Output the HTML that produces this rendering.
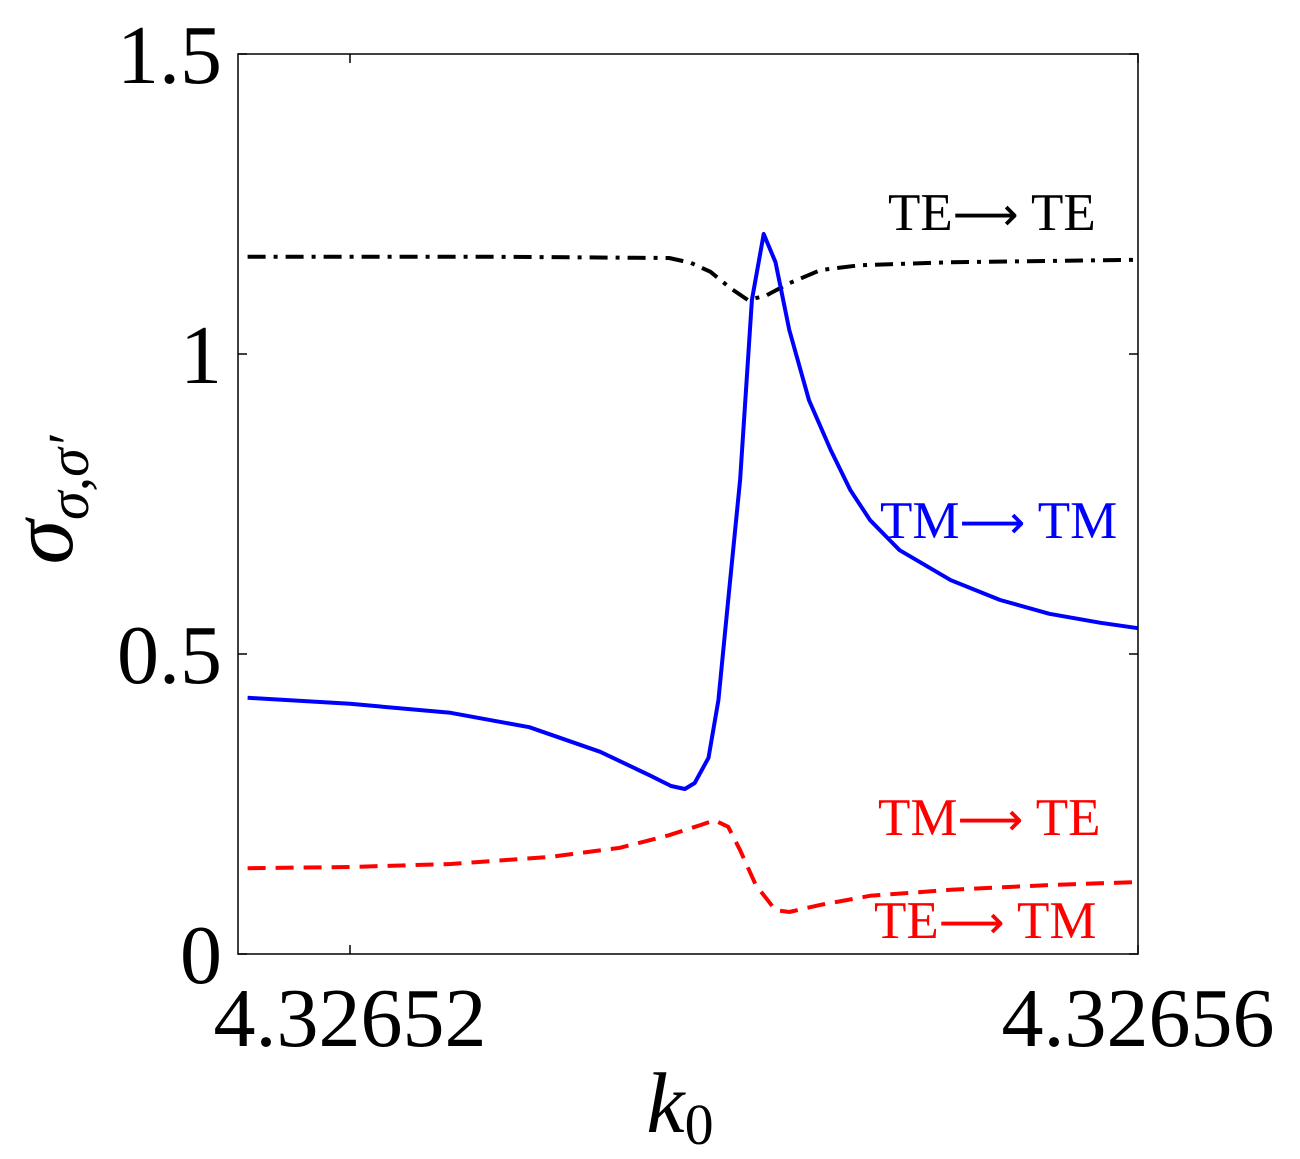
<!DOCTYPE html>
<html><head><meta charset="utf-8"><style>
html,body{margin:0;padding:0;background:#fff;}
svg{display:block;font-family:"Liberation Serif",serif;}
</style></head><body>
<svg id="chart" width="1300" height="1159" viewBox="0 0 1300 1159" xmlns="http://www.w3.org/2000/svg">
<g id="plot"></g>
</svg>
<script>
const blueX=[4.3265148,4.32652,4.3265251,4.3265291,4.3265327,4.3265352,4.3265363,4.326537,4.3265375,4.3265382,4.3265387,4.3265392,4.3265398,4.3265404,4.326541,4.3265416,4.3265423,4.3265433,4.3265444,4.3265454,4.3265464,4.3265479,4.3265505,4.326553,4.3265555,4.3265581,4.32656];
const blueY=[0.427,0.417,0.402,0.378,0.337,0.298,0.280,0.275,0.285,0.327,0.423,0.590,0.790,1.090,1.200,1.153,1.040,0.923,0.840,0.773,0.723,0.673,0.623,0.590,0.567,0.552,0.543];
const blackX=[4.3265148,4.3265276,4.3265362,4.3265373,4.3265383,4.3265393,4.3265402,4.3265411,4.3265423,4.3265439,4.3265459,4.3265505,4.32656];
const blackY=[1.162,1.162,1.160,1.152,1.137,1.110,1.090,1.097,1.118,1.140,1.148,1.153,1.157];
const redX=[4.3265148,4.32652,4.3265251,4.3265302,4.3265337,4.3265362,4.3265378,4.3265385,4.3265392,4.3265398,4.3265406,4.3265416,4.3265423,4.3265439,4.3265464,4.3265505,4.3265555,4.32656];
const redY=[0.143,0.145,0.150,0.162,0.177,0.198,0.215,0.223,0.212,0.173,0.115,0.073,0.070,0.082,0.097,0.107,0.115,0.120];
const xTicks=[4.32652,4.32656];
const xTickLabels=["4.32652","4.32656"];
const yTicks=[0,0.5,1,1.5];
const yTickLabels=["0","0.5","1","1.5"];

const L=238,R=1138,T=54,B=954;
function xs(v){return 350+(v-4.32652)/0.00004*788;}
function ys(v){return B-(v/1.5)*(B-T);}
const NS="http://www.w3.org/2000/svg";
const g=document.getElementById('plot');
function el(tag,attrs,parent){const e=document.createElementNS(NS,tag);for(const k in attrs)e.setAttribute(k,attrs[k]);(parent||g).appendChild(e);return e;}

function series(X,Y,color,dash,name){
  const d=X.map((x,i)=>(i?'L':'M')+xs(x).toFixed(1)+','+ys(Y[i]).toFixed(1)).join(' ');
  const p=el('path',{d:d,fill:'none',stroke:color,'stroke-width':4,'stroke-dasharray':dash,'stroke-linejoin':'round'});
  
  
}
series(blackX,blackY,'#000','18,8,4,8','te-te-line');
series(blueX,blueY,'#0000ff','none','tm-tm-line');
series(redX,redY,'#ff0000','18,10','tm-te-line');

const frame=el('rect',{x:L,y:T,width:R-L,height:B-T,fill:'none',stroke:'#000','stroke-width':1.5});



yTicks.forEach((v,i)=>{
  const y=ys(v);
  el('line',{x1:L,x2:L+9,y1:y,y2:y,stroke:'#000','stroke-width':1.5});
  el('line',{x1:R,x2:R-9,y1:y,y2:y,stroke:'#000','stroke-width':1.5});
  const t=el('text',{x:222,y:y+29,'text-anchor':'end','font-size':84});
  t.textContent=yTickLabels[i];
  
  
});
xTicks.forEach((v,i)=>{
  const x=xs(v);
  el('line',{x1:x,x2:x,y1:B,y2:B-9,stroke:'#000','stroke-width':1.5});
  el('line',{x1:x,x2:x,y1:T,y2:T+9,stroke:'#000','stroke-width':1.5});
  const t=el('text',{x:x,y:1046,'text-anchor':'middle','font-size':84});
  t.textContent=xTickLabels[i];
  
  
});
</script>
<svg style="position:absolute;left:0;top:0" width="1300" height="1159" xmlns="http://www.w3.org/2000/svg" font-family="Liberation Serif, serif">
<text x="680" y="1132" text-anchor="middle" font-size="86" font-style="italic">k<tspan font-size="58" font-style="normal" dy="12">0</tspan></text>
<g transform="translate(72,500) rotate(-90)">
<text x="0" y="0" text-anchor="middle" font-size="90" font-style="italic">σ<tspan font-size="58" dy="16">σ,σ′</tspan></text>
</g>
<text x="888" y="230" font-size="53" fill="#000">TE<tspan font-family="DejaVu Sans, sans-serif" font-size="46">⟶</tspan> TE</text>
<text x="880" y="538" font-size="53" fill="#0000ff">TM<tspan font-family="DejaVu Sans, sans-serif" font-size="46">⟶</tspan> TM</text>
<text x="878" y="835" font-size="53" fill="#ff0000">TM<tspan font-family="DejaVu Sans, sans-serif" font-size="46">⟶</tspan> TE</text>
<text x="874" y="938" font-size="53" fill="#ff0000">TE<tspan font-family="DejaVu Sans, sans-serif" font-size="46">⟶</tspan> TM</text>
</svg>
</body></html>
